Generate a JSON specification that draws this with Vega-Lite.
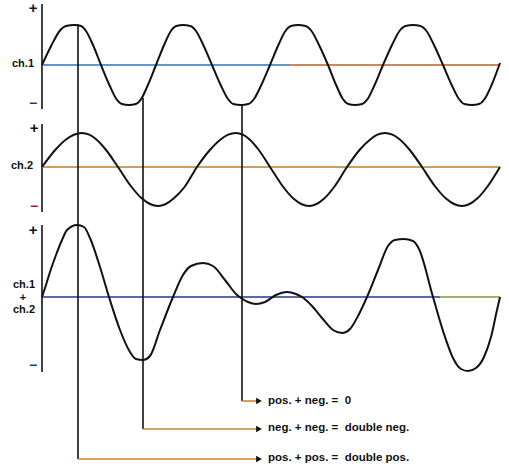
{
  "$schema": "https://vega.github.io/schema/vega-lite/v6.json",
  "width": 509,
  "height": 473,
  "autosize": {"type": "fit", "contains": "padding"},
  "padding": 0,
  "background": "white",
  "config": {"view": {"stroke": null}},
  "datasets": {
    "curves": [
      {"s":"ch1","x":42,"y":65},{"s":"ch1","x":51.6,"y":45},{"s":"ch1","x":59.6,"y":31},{"s":"ch1","x":66,"y":26},{"s":"ch1","x":74,"y":25},{"s":"ch1","x":81,"y":26},{"s":"ch1","x":86,"y":31},{"s":"ch1","x":93,"y":45},{"s":"ch1","x":101,"y":65},
      {"s":"ch1","x":109.4,"y":85},{"s":"ch1","x":116.4,"y":99},{"s":"ch1","x":122,"y":104},{"s":"ch1","x":129,"y":105},{"s":"ch1","x":135.8,"y":104},{"s":"ch1","x":141.2,"y":99},{"s":"ch1","x":147.9,"y":85},{"s":"ch1","x":156,"y":65},
      {"s":"ch1","x":164.1,"y":45},{"s":"ch1","x":170.9,"y":31},{"s":"ch1","x":176.3,"y":26},{"s":"ch1","x":183,"y":25},{"s":"ch1","x":190.3,"y":26},{"s":"ch1","x":196,"y":31},{"s":"ch1","x":203.3,"y":45},{"s":"ch1","x":212,"y":65},
      {"s":"ch1","x":220.7,"y":85},{"s":"ch1","x":228,"y":99},{"s":"ch1","x":233.3,"y":104},{"s":"ch1","x":241,"y":105},{"s":"ch1","x":248.3,"y":104},{"s":"ch1","x":254,"y":99},{"s":"ch1","x":261.3,"y":85},{"s":"ch1","x":270,"y":65},
      {"s":"ch1","x":278.4,"y":45},{"s":"ch1","x":285.4,"y":31},{"s":"ch1","x":291,"y":26},{"s":"ch1","x":298,"y":25},{"s":"ch1","x":305.5,"y":26},{"s":"ch1","x":311.5,"y":31},{"s":"ch1","x":319,"y":45},{"s":"ch1","x":328,"y":65},
      {"s":"ch1","x":336.1,"y":85},{"s":"ch1","x":342.9,"y":99},{"s":"ch1","x":348.3,"y":104},{"s":"ch1","x":355,"y":105},{"s":"ch1","x":362,"y":104},{"s":"ch1","x":367.6,"y":99},{"s":"ch1","x":374.6,"y":85},{"s":"ch1","x":383,"y":65},
      {"s":"ch1","x":392,"y":45},{"s":"ch1","x":399.5,"y":31},{"s":"ch1","x":405.5,"y":26},{"s":"ch1","x":413,"y":25},{"s":"ch1","x":420.5,"y":26},{"s":"ch1","x":426.5,"y":31},{"s":"ch1","x":434,"y":45},{"s":"ch1","x":443,"y":65},
      {"s":"ch1","x":451.7,"y":85},{"s":"ch1","x":459,"y":99},{"s":"ch1","x":464.3,"y":104},{"s":"ch1","x":472,"y":105},{"s":"ch1","x":479,"y":104},{"s":"ch1","x":484.6,"y":99},{"s":"ch1","x":491.6,"y":85},{"s":"ch1","x":500,"y":63},

      {"s":"ch2","x":42,"y":167},{"s":"ch2","x":55.2,"y":150},{"s":"ch2","x":66,"y":139.5},{"s":"ch2","x":74,"y":134.7},{"s":"ch2","x":82,"y":133},{"s":"ch2","x":89.2,"y":134.7},{"s":"ch2","x":96.4,"y":139.5},{"s":"ch2","x":106.1,"y":150},{"s":"ch2","x":118,"y":167},
      {"s":"ch2","x":131.2,"y":186.5},{"s":"ch2","x":142,"y":198.6},{"s":"ch2","x":150,"y":204},{"s":"ch2","x":158,"y":206},{"s":"ch2","x":165.8,"y":204},{"s":"ch2","x":173.6,"y":198.6},{"s":"ch2","x":184.9,"y":186.5},{"s":"ch2","x":197,"y":167},
      {"s":"ch2","x":209.9,"y":150},{"s":"ch2","x":220.6,"y":139.5},{"s":"ch2","x":228.2,"y":134.7},{"s":"ch2","x":236,"y":133},{"s":"ch2","x":242.8,"y":134.7},{"s":"ch2","x":249.6,"y":139.5},{"s":"ch2","x":258.8,"y":150},{"s":"ch2","x":270,"y":167},
      {"s":"ch2","x":282.9,"y":186.5},{"s":"ch2","x":293.4,"y":198.6},{"s":"ch2","x":301.2,"y":204},{"s":"ch2","x":309,"y":206},{"s":"ch2","x":316.6,"y":204},{"s":"ch2","x":324.2,"y":198.6},{"s":"ch2","x":334.5,"y":186.5},{"s":"ch2","x":347,"y":167},
      {"s":"ch2","x":359.5,"y":150},{"s":"ch2","x":370.2,"y":139.5},{"s":"ch2","x":377.4,"y":134.7},{"s":"ch2","x":385,"y":133},{"s":"ch2","x":392.4,"y":134.7},{"s":"ch2","x":399.8,"y":139.5},{"s":"ch2","x":409.8,"y":150},{"s":"ch2","x":422,"y":167},
      {"s":"ch2","x":435.2,"y":186.5},{"s":"ch2","x":446,"y":198.6},{"s":"ch2","x":454,"y":204},{"s":"ch2","x":462,"y":206},{"s":"ch2","x":469.6,"y":204},{"s":"ch2","x":477.2,"y":198.6},{"s":"ch2","x":487.5,"y":186.5},{"s":"ch2","x":500,"y":167},

      {"s":"sum","x":42,"y":297},{"s":"sum","x":46,"y":285},{"s":"sum","x":50,"y":272},{"s":"sum","x":56,"y":255},{"s":"sum","x":62,"y":240},{"s":"sum","x":67,"y":230},{"s":"sum","x":77,"y":225},{"s":"sum","x":84,"y":227},{"s":"sum","x":90,"y":238},{"s":"sum","x":100,"y":267},{"s":"sum","x":109,"y":297},
      {"s":"sum","x":120,"y":330},{"s":"sum","x":130,"y":352},{"s":"sum","x":136,"y":359},{"s":"sum","x":143,"y":360},{"s":"sum","x":150,"y":356},{"s":"sum","x":160,"y":330},{"s":"sum","x":173,"y":297},{"s":"sum","x":183,"y":275},{"s":"sum","x":191,"y":266},{"s":"sum","x":203,"y":263},{"s":"sum","x":213,"y":266},{"s":"sum","x":225,"y":280},{"s":"sum","x":236,"y":294},{"s":"sum","x":241,"y":298},
      {"s":"sum","x":248,"y":302},{"s":"sum","x":256,"y":304},{"s":"sum","x":265,"y":302},{"s":"sum","x":276,"y":295},{"s":"sum","x":287,"y":292},{"s":"sum","x":296,"y":294},{"s":"sum","x":302,"y":297},{"s":"sum","x":312,"y":306},{"s":"sum","x":322,"y":318},{"s":"sum","x":333,"y":330},{"s":"sum","x":342,"y":333},{"s":"sum","x":350,"y":329},{"s":"sum","x":358,"y":316},{"s":"sum","x":367,"y":297},
      {"s":"sum","x":378,"y":270},{"s":"sum","x":388,"y":246},{"s":"sum","x":395,"y":240},{"s":"sum","x":404,"y":239},{"s":"sum","x":413,"y":241},{"s":"sum","x":419,"y":249},{"s":"sum","x":433,"y":297},{"s":"sum","x":445,"y":337},{"s":"sum","x":453,"y":358},{"s":"sum","x":461,"y":369},{"s":"sum","x":468,"y":371},{"s":"sum","x":476,"y":368},{"s":"sum","x":484,"y":357},{"s":"sum","x":491,"y":337},{"s":"sum","x":497,"y":310},{"s":"sum","x":500,"y":297}
    ],
    "rules": [
      {"k":"axis","x1":42,"y1":4,"x2":42,"y2":109},
      {"k":"axis","x1":42,"y1":124,"x2":42,"y2":212},
      {"k":"axis","x1":42,"y1":225,"x2":42,"y2":372},
      {"k":"base1a","x1":42,"y1":65,"x2":290,"y2":65},
      {"k":"base1b","x1":290,"y1":65,"x2":500,"y2":65},
      {"k":"base2","x1":42,"y1":167,"x2":500,"y2":167},
      {"k":"base3a","x1":42,"y1":297,"x2":440,"y2":297},
      {"k":"base3b","x1":440,"y1":297,"x2":500,"y2":297},
      {"k":"guide","x1":78,"y1":24,"x2":78,"y2":459},
      {"k":"guide","x1":143,"y1":98,"x2":143,"y2":429},
      {"k":"guide","x1":242,"y1":105,"x2":242,"y2":401},
      {"k":"stem","x1":78,"y1":459,"x2":257,"y2":459},
      {"k":"stem","x1":143,"y1":429,"x2":257,"y2":429},
      {"k":"stem","x1":242,"y1":401,"x2":257,"y2":401}
    ],
    "arrows": [
      {"x":259,"y":401},{"x":259,"y":429},{"x":259,"y":459}
    ],
    "plus": [
      {"t":"+","x":33,"y":8},
      {"t":"+","x":34,"y":128},
      {"t":"+","x":33,"y":230}
    ],
    "minus": [
      {"t":"−","x":33,"y":104,"ch":"ch.1"},
      {"t":"−","x":34,"y":207,"ch":"ch.2"},
      {"t":"−","x":33,"y":366,"ch":"sum"}
    ],
    "labels": [
      {"t":"ch.1","x":23,"y":64},
      {"t":"ch.2","x":22,"y":166},
      {"t":"ch.1","x":24,"y":285},
      {"t":"+","x":23,"y":298},
      {"t":"ch.2","x":24,"y":310}
    ],
    "results": [
      {"t":"pos. + neg. =\u00a0\u00a00","x":268,"y":401},
      {"t":"neg. + neg. =\u00a0\u00a0double neg.","x":268,"y":428},
      {"t":"pos. + pos. =\u00a0\u00a0double pos.","x":268,"y":458}
    ]
  },
  "resolve": {"scale": {"color": "independent", "strokeWidth": "independent"}},
  "layer": [
    {
      "data": {"name": "rules"},
      "mark": {"type": "rule"},
      "encoding": {
        "x": {"field": "x1", "type": "quantitative", "scale": {"domain": [0, 509], "nice": false, "zero": false}, "axis": null},
        "y": {"field": "y1", "type": "quantitative", "scale": {"domain": [0, 473], "nice": false, "zero": false, "reverse": true}, "axis": null},
        "x2": {"field": "x2"},
        "y2": {"field": "y2"},
        "color": {"field": "k", "type": "nominal", "legend": null,
          "scale": {"domain": ["axis","base1a","base1b","base2","base3a","base3b","guide","stem"],
                    "range": ["#111111","#2f6fd2","#c25a2c","#c07a32","#28358f","#7a9c3c","#111111","#d0822e"]}},
        "strokeWidth": {"field": "k", "type": "nominal", "legend": null,
          "scale": {"domain": ["axis","base1a","base1b","base2","base3a","base3b","guide","stem"],
                    "range": [1.6, 1.6, 1.6, 1.2, 1.4, 1.4, 1, 1.5]}}
      }
    },
    {
      "data": {"name": "curves"},
      "mark": {"type": "line", "color": "#111111", "strokeWidth": 2, "interpolate": "monotone"},
      "encoding": {
        "x": {"field": "x", "type": "quantitative"},
        "y": {"field": "y", "type": "quantitative"},
        "detail": {"field": "s", "type": "nominal"}
      }
    },
    {
      "data": {"name": "arrows"},
      "mark": {"type": "point", "shape": "triangle-right", "filled": true, "color": "#111111", "size": 45, "opacity": 1},
      "encoding": {
        "x": {"field": "x", "type": "quantitative"},
        "y": {"field": "y", "type": "quantitative"}
      }
    },
    {
      "data": {"name": "plus"},
      "mark": {"type": "text", "align": "center", "baseline": "middle", "font": "Liberation Sans", "fontWeight": "bold", "fontSize": 15, "color": "#111111"},
      "encoding": {
        "x": {"field": "x", "type": "quantitative"},
        "y": {"field": "y", "type": "quantitative"},
        "text": {"field": "t"}
      }
    },
    {
      "data": {"name": "minus"},
      "mark": {"type": "text", "align": "center", "baseline": "middle", "font": "Liberation Sans", "fontWeight": "bold", "fontSize": 14},
      "encoding": {
        "x": {"field": "x", "type": "quantitative"},
        "y": {"field": "y", "type": "quantitative"},
        "text": {"field": "t"},
        "color": {"field": "ch", "type": "nominal", "legend": null,
          "scale": {"domain": ["ch.1","ch.2","sum"], "range": ["#1f3a8a","#8a2a1a","#1f3a8a"]}}
      }
    },
    {
      "data": {"name": "labels"},
      "mark": {"type": "text", "align": "center", "baseline": "middle", "font": "Liberation Sans", "fontWeight": "bold", "fontSize": 11, "color": "#111111"},
      "encoding": {
        "x": {"field": "x", "type": "quantitative"},
        "y": {"field": "y", "type": "quantitative"},
        "text": {"field": "t"}
      }
    },
    {
      "data": {"name": "results"},
      "mark": {"type": "text", "align": "left", "baseline": "middle", "font": "Liberation Sans", "fontWeight": "bold", "fontSize": 11.5, "color": "#111111"},
      "encoding": {
        "x": {"field": "x", "type": "quantitative"},
        "y": {"field": "y", "type": "quantitative"},
        "text": {"field": "t"}
      }
    }
  ]
}
